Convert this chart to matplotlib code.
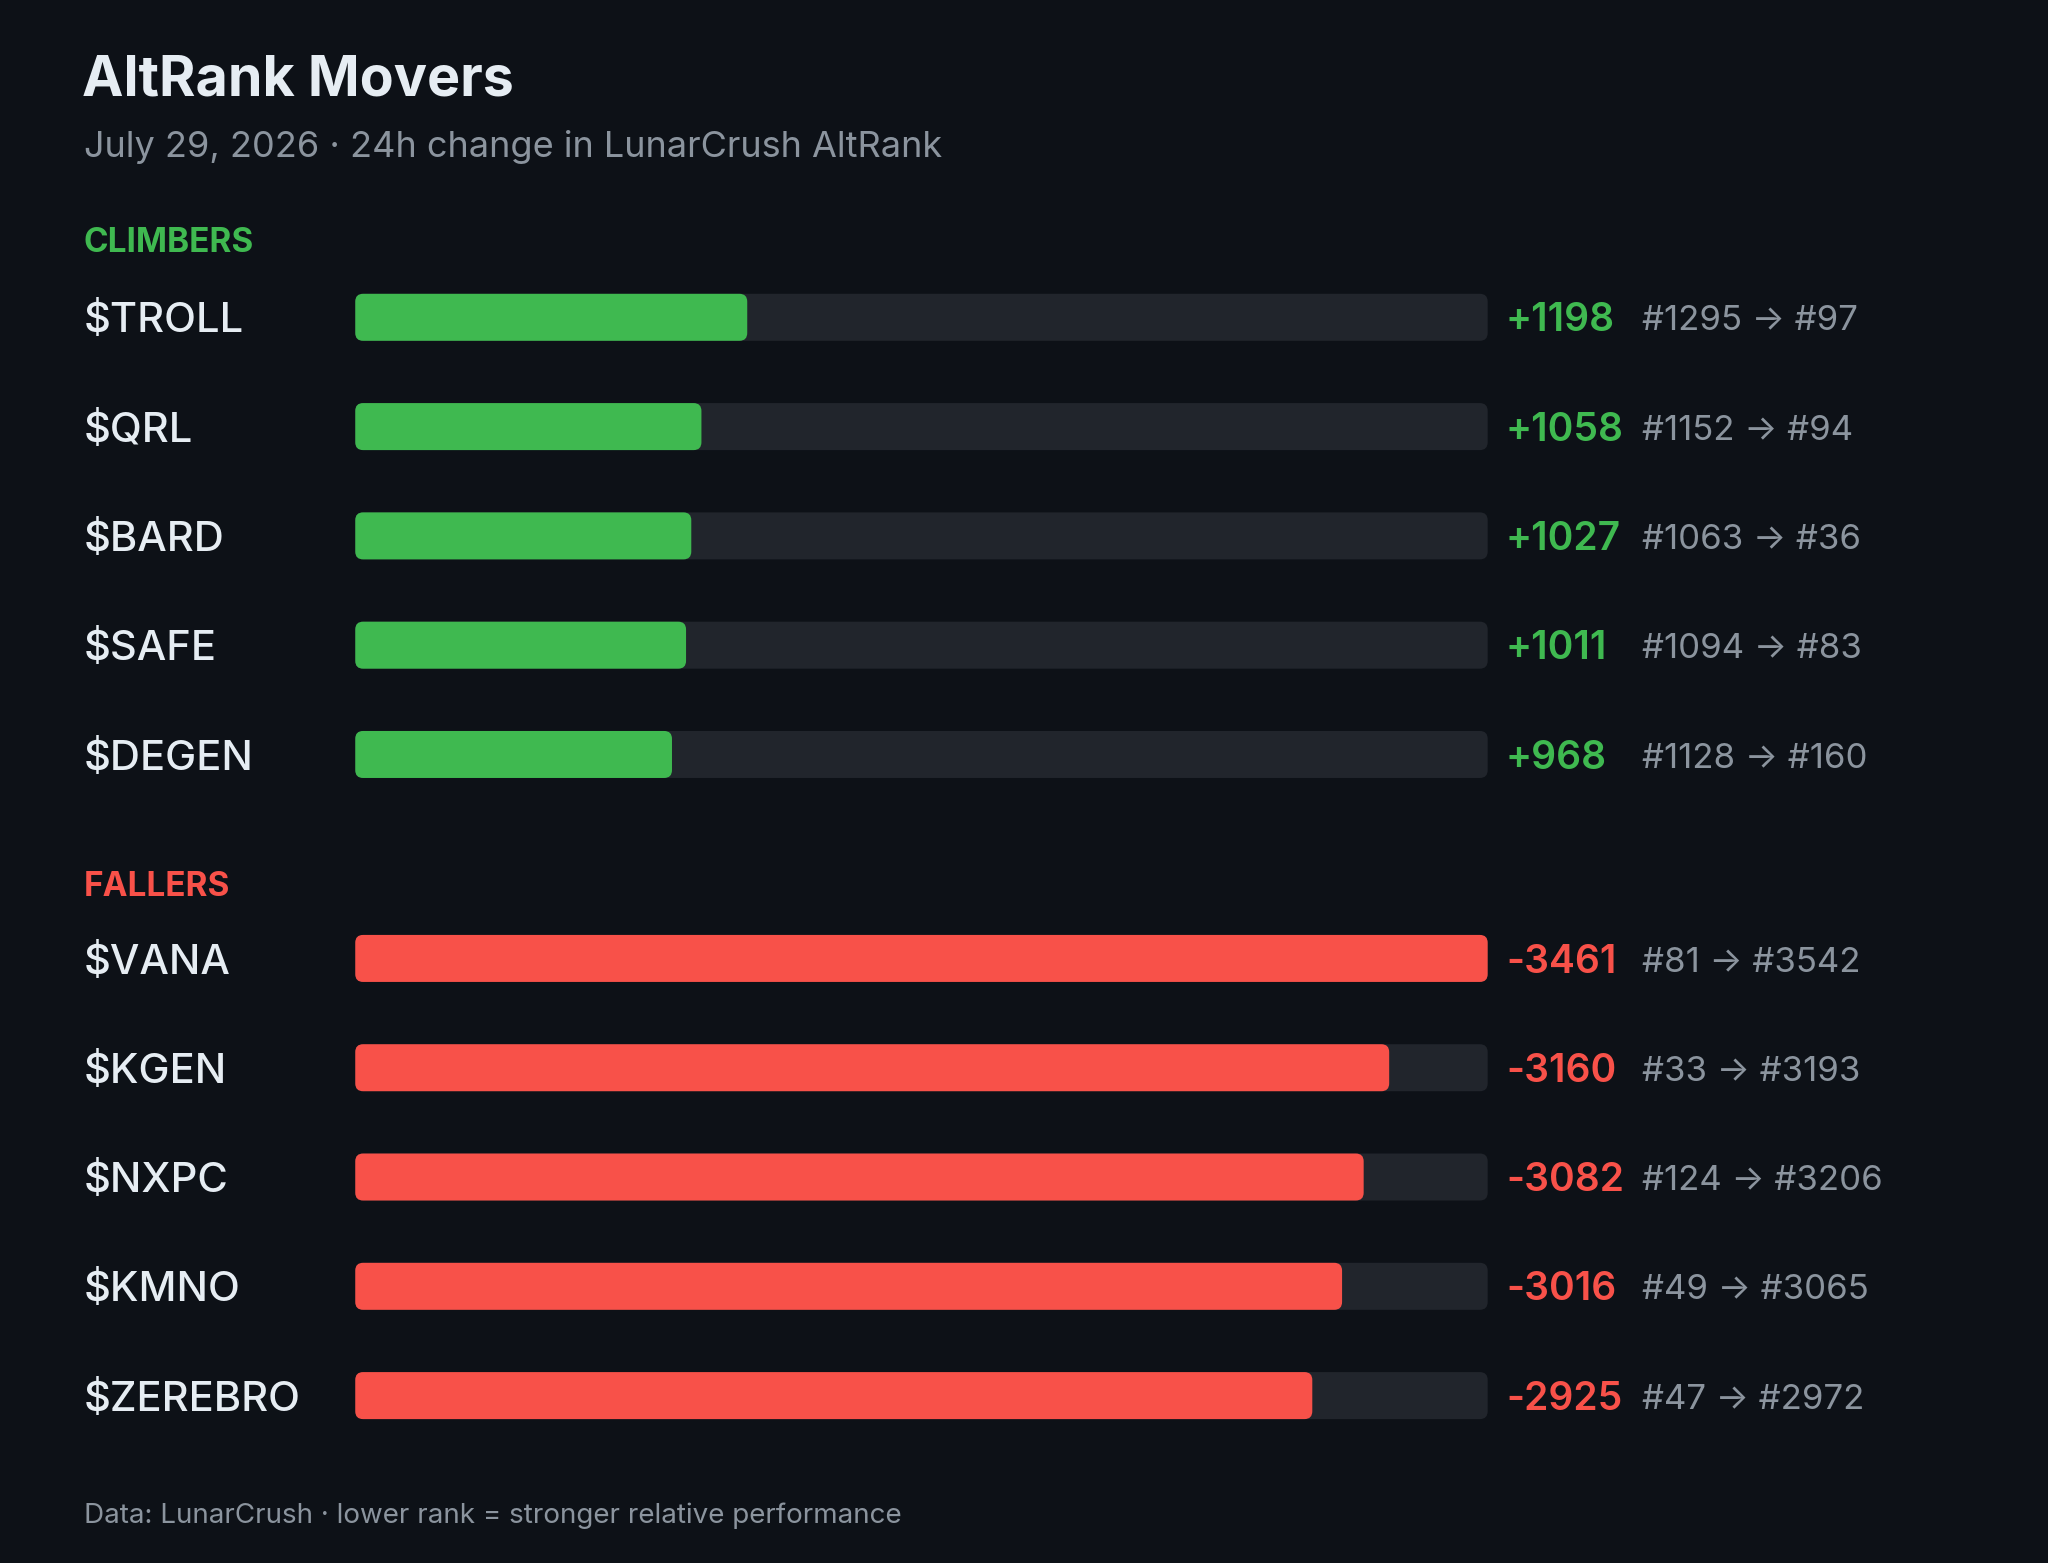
import matplotlib
matplotlib.use("Agg")
import matplotlib.pyplot as plt
from matplotlib.patches import FancyBboxPatch

plt.rcParams['font.family'] = ['Inter', 'DejaVu Sans']
plt.rcParams['text.parse_math'] = False

# ── data ───────────────────────────────────────────────
climbers = ['$TROLL', '$QRL', '$BARD', '$SAFE', '$DEGEN']
climb_change = [1198, 1058, 1027, 1011, 968]
climb_from = [1295, 1152, 1063, 1094, 1128]
climb_to = [97, 94, 36, 83, 160]

fallers = ['$VANA', '$KGEN', '$NXPC', '$KMNO', '$ZEREBRO']
fall_change = [-3461, -3160, -3082, -3016, -2925]
fall_from = [81, 33, 124, 49, 47]
fall_to = [3542, 3193, 3206, 3065, 2972]

title = 'AltRank Movers'
subtitle = 'July 29, 2026 · 24h change in LunarCrush AltRank'
footer = 'Data: LunarCrush · lower rank = stronger relative performance'

# ── style ──────────────────────────────────────────────
BG = '#0d1117'
TRACK = '#21252c'
GREEN = '#3fb950'
RED = '#f85149'
WHITE = '#e6edf3'
GREY = '#8b949e'

# canvas units (figure is 2048x1563 px, canvas 1568x1197 units)
W, H = 1568, 1197
PX = 2048 / W            # pixels per canvas unit
LEFT = 64
BAR_X0, BAR_W, BAR_H = 272, 867, 36
VAL_X, RANK_X = 1153, 1257
ROW_GAP = 83.7


def half_cap(size_pt):
    """half of the cap height (canvas units) for Inter at size_pt"""
    em = size_pt * 100 / 72 / PX
    return 0.727 * em / 2


fig = plt.figure(figsize=(20.48, 15.63), dpi=100, facecolor=BG)
ax = fig.add_axes([0, 0, 1, 1])
ax.set_xlim(0, W)
ax.set_ylim(H, 0)
ax.axis('off')
ax.set_facecolor(BG)

ax.text(LEFT - 1, 73.5, title, fontsize=40, fontweight='bold', color=WHITE,
        va='baseline', ha='left')
ax.text(LEFT, 120, subtitle, fontsize=26, color=GREY, va='baseline', ha='left')

vmax = max(abs(v) for v in climb_change + fall_change)


def draw_section(label, label_y, first_row, names, changes, frm, to, color):
    ax.text(LEFT, label_y, label, fontsize=24, fontweight='bold', color=color,
            va='baseline', ha='left')
    for i, (name, chg, a, b) in enumerate(zip(names, changes, frm, to)):
        yc = first_row + i * ROW_GAP
        ax.text(LEFT, yc + half_cap(30), name, fontsize=30, fontweight='medium',
                color=WHITE, va='baseline', ha='left')
        ax.add_patch(FancyBboxPatch((BAR_X0, yc - BAR_H / 2), BAR_W, BAR_H,
                                    boxstyle='round,pad=0,rounding_size=6',
                                    facecolor=TRACK, edgecolor='none'))
        ax.add_patch(FancyBboxPatch((BAR_X0, yc - BAR_H / 2),
                                    BAR_W * abs(chg) / vmax, BAR_H,
                                    boxstyle='round,pad=0,rounding_size=6',
                                    facecolor=color, edgecolor='none'))
        ax.text(VAL_X, yc + half_cap(28), f'{chg:+d}', fontsize=28,
                fontweight='semibold', color=color, va='baseline', ha='left')
        ax.text(RANK_X, yc + half_cap(26), f'#{a} → #{b}', fontsize=25,
                color=GREY, va='baseline', ha='left')


draw_section('CLIMBERS', 193, 243, climbers, climb_change, climb_from,
             climb_to, GREEN)
draw_section('FALLERS', 686, 734, fallers, fall_change, fall_from,
             fall_to, RED)

ax.text(LEFT, 1166, footer, fontsize=20, color=GREY, va='baseline', ha='left')

fig.savefig('out.png', dpi=100, facecolor=BG)
